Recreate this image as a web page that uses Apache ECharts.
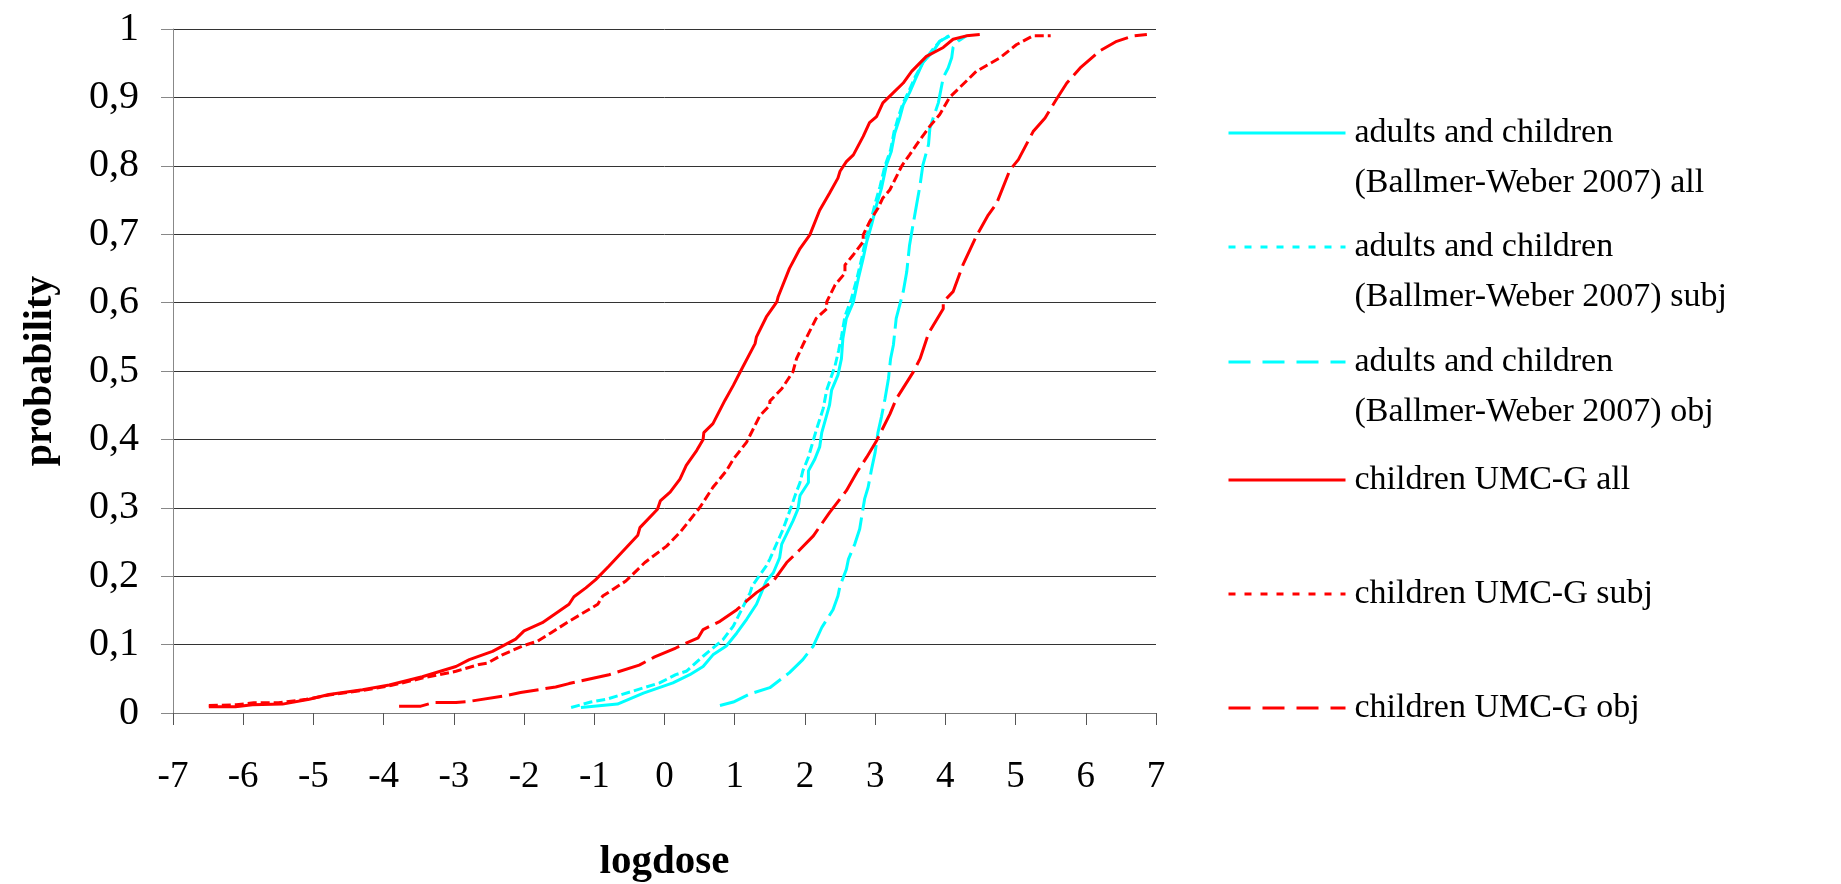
<!DOCTYPE html>
<html>
<head>
<meta charset="utf-8">
<script src="https://cdn.jsdelivr.net/npm/echarts/dist/echarts.min.js"></script>
<style>
html,body{margin:0;padding:0;background:#fff;}
#chart{width:1841px;height:884px;}
</style>
</head>
<body>
<div id="chart"></div>
<script>
// ---- tick labels ----
var xTickLabels = ['-7','-6','-5','-4','-3','-2','-1','0','1','2','3','4','5','6','7'];
var yTickLabels = ['0','0,1','0,2','0,3','0,4','0,5','0,6','0,7','0,8','0,9','1'];

// ---- series names / legend labels ----
var seriesNames = [
  'adults and children (Ballmer-Weber 2007) all',
  'adults and children (Ballmer-Weber 2007) subj',
  'adults and children (Ballmer-Weber 2007) obj',
  'children UMC-G all',
  'children UMC-G subj',
  'children UMC-G obj'
];
var legendLabels = [
  'adults and children\n(Ballmer-Weber 2007) all',
  'adults and children\n(Ballmer-Weber 2007) subj',
  'adults and children\n(Ballmer-Weber 2007) obj',
  'children UMC-G all',
  'children UMC-G subj',
  'children UMC-G obj'
];

// ---- data: [logdose, probability] ----
var cyanAll = [[-1.19,0.008],[-0.67,0.013],[-0.30,0.029],[0.12,0.044],[0.36,0.056],[0.55,0.068],[0.69,0.085],[0.88,0.098],[1.03,0.117],[1.17,0.137],[1.31,0.159],[1.38,0.176],[1.45,0.193],[1.55,0.205],[1.64,0.227],[1.67,0.247],[1.83,0.281],[1.90,0.298],[1.93,0.318],[2.05,0.337],[2.05,0.354],[2.14,0.371],[2.21,0.389],[2.24,0.41],[2.35,0.45],[2.38,0.472],[2.47,0.494],[2.52,0.518],[2.54,0.547],[2.59,0.577],[2.69,0.601],[2.76,0.635],[2.83,0.665],[2.88,0.689],[2.95,0.714],[3.02,0.743],[3.09,0.767],[3.16,0.801],[3.23,0.821],[3.28,0.848],[3.35,0.87],[3.40,0.889],[3.49,0.907],[3.57,0.926],[3.68,0.951],[3.83,0.968],[3.92,0.982],[4.06,0.99]];
var cyanSubj = [[-1.33,0.008],[-1.05,0.016],[-0.83,0.02],[-0.07,0.044],[0.16,0.056],[0.31,0.061],[0.55,0.083],[0.83,0.107],[0.98,0.127],[1.22,0.176],[1.25,0.186],[1.45,0.215],[1.50,0.225],[1.69,0.269],[1.81,0.303],[1.86,0.318],[1.93,0.337],[1.97,0.354],[2.05,0.374],[2.16,0.413],[2.26,0.445],[2.31,0.472],[2.43,0.508],[2.48,0.53],[2.52,0.55],[2.57,0.58],[2.66,0.605],[2.74,0.635],[2.81,0.665],[2.86,0.69],[2.93,0.716],[3.0,0.745],[3.07,0.77],[3.14,0.8],[3.22,0.823],[3.27,0.85],[3.33,0.871],[3.39,0.89],[3.48,0.909],[3.56,0.928],[3.68,0.951],[3.82,0.97],[3.92,0.982],[4.05,0.99]];
var cyanObj = [[0.79,0.011],[0.98,0.016],[1.22,0.028],[1.50,0.037],[1.78,0.059],[1.97,0.078],[2.12,0.098],[2.24,0.125],[2.40,0.151],[2.47,0.171],[2.50,0.186],[2.59,0.21],[2.62,0.225],[2.71,0.247],[2.78,0.269],[2.81,0.288],[2.85,0.313],[2.90,0.33],[2.95,0.357],[3.0,0.381],[3.04,0.41],[3.09,0.433],[3.14,0.459],[3.19,0.489],[3.22,0.518],[3.26,0.538],[3.30,0.577],[3.40,0.616],[3.45,0.645],[3.49,0.684],[3.54,0.714],[3.59,0.743],[3.64,0.772],[3.68,0.801],[3.76,0.831],[3.78,0.855],[3.85,0.877],[3.90,0.892],[3.97,0.929],[4.04,0.943],[4.09,0.958],[4.11,0.973],[4.18,0.982],[4.30,0.99]];
var redAll = [[-6.49,0.009],[-6.11,0.009],[-5.87,0.012],[-5.44,0.013],[-5.06,0.02],[-4.78,0.027],[-4.30,0.034],[-3.92,0.041],[-3.45,0.053],[-2.97,0.068],[-2.78,0.078],[-2.45,0.09],[-2.12,0.108],[-2.0,0.12],[-1.74,0.132],[-1.36,0.159],[-1.29,0.17],[-1.12,0.183],[-0.98,0.195],[-0.79,0.215],[-0.38,0.26],[-0.35,0.271],[-0.10,0.298],[-0.06,0.31],[0.08,0.323],[0.22,0.342],[0.31,0.362],[0.46,0.384],[0.55,0.40],[0.56,0.41],[0.69,0.423],[0.86,0.457],[0.98,0.479],[1.10,0.503],[1.29,0.54],[1.31,0.55],[1.45,0.579],[1.60,0.601],[1.62,0.609],[1.78,0.65],[1.93,0.679],[2.07,0.699],[2.21,0.735],[2.35,0.76],[2.47,0.782],[2.50,0.792],[2.59,0.806],[2.69,0.816],[2.83,0.843],[2.92,0.863],[3.02,0.872],[3.11,0.892],[3.26,0.907],[3.40,0.921],[3.52,0.938],[3.73,0.96],[3.97,0.973],[4.11,0.985],[4.30,0.99],[4.49,0.992]];
var redSubj = [[-6.49,0.011],[-6.1,0.012],[-5.85,0.015],[-5.5,0.015],[-5.1,0.02],[-4.8,0.026],[-4.3,0.033],[-3.9,0.04],[-3.45,0.051],[-2.97,0.061],[-2.64,0.071],[-2.52,0.073],[-2.31,0.085],[-2.02,0.098],[-1.81,0.105],[-1.62,0.117],[-1.36,0.134],[-0.95,0.159],[-0.88,0.171],[-0.55,0.193],[-0.28,0.22],[0.03,0.244],[0.22,0.264],[0.50,0.30],[0.69,0.33],[0.88,0.354],[0.98,0.371],[1.17,0.396],[1.36,0.435],[1.50,0.45],[1.50,0.456],[1.67,0.474],[1.83,0.499],[1.88,0.518],[1.97,0.538],[2.16,0.577],[2.31,0.591],[2.31,0.601],[2.43,0.626],[2.57,0.643],[2.57,0.655],[2.69,0.67],[2.83,0.689],[2.83,0.699],[2.92,0.718],[3.04,0.738],[3.11,0.753],[3.21,0.765],[3.38,0.80],[3.49,0.816],[3.59,0.831],[3.78,0.858],[3.92,0.875],[4.06,0.90],[4.30,0.924],[4.44,0.938],[4.78,0.958],[5.01,0.977],[5.25,0.99],[5.5,0.99]];
var redObj = [[-3.78,0.01],[-3.47,0.01],[-3.28,0.0155],[-2.97,0.0155],[-2.78,0.017],[-2.28,0.025],[-2.05,0.03],[-1.55,0.038],[-1.36,0.043],[-0.79,0.056],[-0.36,0.07],[-0.14,0.082],[0.16,0.095],[0.26,0.10],[0.48,0.11],[0.55,0.122],[0.79,0.134],[1.03,0.151],[1.17,0.164],[1.31,0.176],[1.55,0.193],[1.74,0.22],[1.93,0.239],[2.12,0.259],[2.35,0.293],[2.59,0.325],[2.74,0.352],[2.88,0.374],[3.02,0.398],[3.21,0.437],[3.30,0.459],[3.54,0.498],[3.64,0.518],[3.76,0.555],[3.97,0.591],[3.97,0.601],[4.11,0.616],[4.25,0.655],[4.44,0.697],[4.61,0.728],[4.73,0.745],[4.92,0.794],[5.04,0.809],[5.25,0.85],[5.42,0.87],[5.58,0.897],[5.73,0.921],[5.92,0.943],[6.20,0.968],[6.44,0.982],[6.68,0.99],[6.87,0.992]];

var seriesData = [cyanAll, cyanSubj, cyanObj, redAll, redSubj, redObj];
var seriesColors = ['#00FFFF','#00FFFF','#00FFFF','#FF0000','#FF0000','#FF0000'];
var plotDash = ['solid',[9,4],[30,7],'solid',[9,4],[30,7]];
var legendDash = ['solid',[7,9],[22,12],'solid',[7,9],[22,12]];
var legendCenters = [133, 247, 362, 480, 594, 708];

var FONT = '"Liberation Serif", "Times New Roman", serif';

var series = seriesData.map(function (d, i) {
  return {
    name: seriesNames[i],
    type: 'line',
    data: d,
    symbol: 'none',
    showSymbol: false,
    smooth: false,
    z: 2 + i,
    lineStyle: { color: seriesColors[i], width: 3, type: plotDash[i] },
    itemStyle: { color: seriesColors[i] },
    emphasis: { disabled: true }
  };
});

var legends = seriesNames.map(function (n, i) {
  var twoLine = legendLabels[i].indexOf('\n') >= 0;
  return {
    data: [n],
    left: 1227,
    top: legendCenters[i] - (twoLine ? 75 : 25),
    orient: 'vertical',
    padding: 0,
    itemWidth: 117,
    itemHeight: 14,
    selectedMode: false,
    formatter: function (name) {
      var lab = legendLabels[seriesNames.indexOf(name)];
      return lab.indexOf('\n') >= 0 ? '\n' + lab : lab;
    },
    itemStyle: { color: 'rgba(0,0,0,0)', borderColor: 'rgba(0,0,0,0)', borderWidth: 0 },
    lineStyle: { color: seriesColors[i], type: legendDash[i], width: 3 },
    textStyle: { fontFamily: FONT, fontSize: 34, color: '#000', lineHeight: 50, padding: [0, 0, 0, 4] }
  };
});

var chart = echarts.init(document.getElementById('chart'), null, { renderer: 'canvas' });
chart.setOption({
  animation: false,
  backgroundColor: '#fff',
  grid: { left: 173, right: 685, top: 29, bottom: 171, containLabel: false, outerBoundsMode: 'none' },
  legend: legends,
  xAxis: {
    type: 'value',
    min: -7, max: 7, interval: 1,
    name: 'logdose',
    nameLocation: 'middle',
    nameGap: 129,
    nameTextStyle: { fontFamily: FONT, fontSize: 41, fontWeight: 'bold', color: '#000' },
    axisLine: { show: true, onZero: false, lineStyle: { color: '#777', width: 1 } },
    axisTick: { show: true, length: 12, lineStyle: { color: '#555', width: 1 } },
    axisLabel: {
      margin: 46, fontFamily: FONT, fontSize: 37, color: '#000',
      formatter: function (v) { return xTickLabels[Math.round(v) + 7]; }
    },
    splitLine: { show: false }
  },
  yAxis: {
    type: 'value',
    min: 0, max: 1, interval: 0.1,
    name: 'probability',
    nameLocation: 'middle',
    nameGap: 112,
    nameTextStyle: { fontFamily: FONT, fontSize: 40, fontWeight: 'bold', color: '#000' },
    axisLine: { show: true, onZero: false, lineStyle: { color: '#888', width: 1 } },
    axisTick: { show: true, length: 12, lineStyle: { color: '#888', width: 1 } },
    axisLabel: {
      margin: 34, fontFamily: FONT, fontSize: 40, color: '#000',
      formatter: function (v) { return yTickLabels[Math.round(v * 10)]; }
    },
    splitLine: { show: true, lineStyle: { color: '#333', width: 1 } }
  },
  series: series
});
</script>
</body>
</html>
